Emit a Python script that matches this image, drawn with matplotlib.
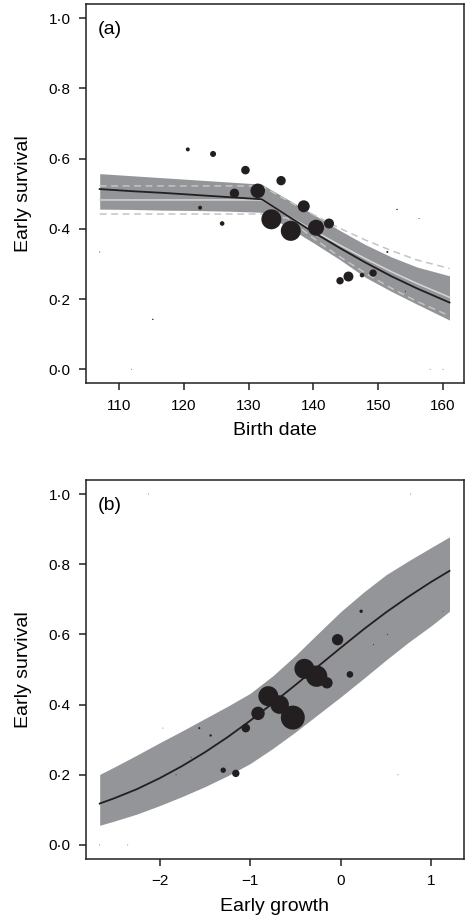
import matplotlib
matplotlib.use("Agg")
import matplotlib.pyplot as plt
import numpy as np

plt.rcParams['font.family'] = ['Liberation Sans', 'DejaVu Sans']

# ---------------- Panel (a) data ----------------
bd_x = [107, 112, 117, 122, 127, 132, 136, 140, 144, 148, 152, 156, 161]
bd_fit = [0.513, 0.507, 0.502, 0.496, 0.490, 0.484, 0.437, 0.390, 0.346, 0.304, 0.265, 0.230, 0.190]
bd_upper = [0.557, 0.551, 0.545, 0.539, 0.533, 0.527, 0.484, 0.441, 0.396, 0.355, 0.320, 0.291, 0.266]
bd_lower = [0.456, 0.455, 0.453, 0.452, 0.450, 0.447, 0.405, 0.360, 0.313, 0.262, 0.222, 0.185, 0.140]
bd_alt_fit = [0.482, 0.482, 0.482, 0.482, 0.482, 0.482, 0.438, 0.395, 0.354, 0.315, 0.278, 0.244, 0.205]
bd_alt_upper = [0.522, 0.522, 0.522, 0.522, 0.522, 0.522, 0.480, 0.440, 0.402, 0.368, 0.338, 0.311, 0.287]
bd_alt_lower = [0.442, 0.442, 0.442, 0.442, 0.442, 0.442, 0.430, 0.373, 0.321, 0.274, 0.231, 0.193, 0.152]

pts_a_x = [120.6, 124.5, 129.5, 135.0, 127.8, 131.4, 122.5, 125.9, 133.5, 136.5,
           138.5, 140.4, 142.4, 144.1, 145.4, 147.5, 149.2, 151.4, 152.9, 156.3,
           154.2, 115.2, 118.7, 107.0, 111.9, 158.0, 160.0]
pts_a_y = [0.626, 0.613, 0.567, 0.537, 0.501, 0.508, 0.460, 0.415, 0.427, 0.394,
           0.464, 0.403, 0.415, 0.252, 0.264, 0.268, 0.274, 0.334, 0.455, 0.429,
           0.222, 0.142, 0.500, 0.334, 0.0, 0.0, 0.0]
pts_a_n = [4, 9, 18.5, 22, 22, 53, 4, 5.3, 100, 100,
           36, 64, 25, 13.7, 25, 5.3, 13.7, 1, 0.5, 0.25,
           0.25, 0.5, 0.25, 0.25, 0.16, 0.16, 0.16]

# ---------------- Panel (b) data ----------------
eg_x = [-2.66, -2.5, -2.25, -2.0, -1.75, -1.5, -1.25, -1.0, -0.75, -0.5,
        -0.25, 0.0, 0.25, 0.5, 0.75, 1.0, 1.2]
eg_fit = [0.118, 0.133, 0.159, 0.190, 0.225, 0.264, 0.307, 0.354, 0.404, 0.456,
          0.509, 0.562, 0.614, 0.663, 0.708, 0.750, 0.781]
eg_upper = [0.201, 0.222, 0.256, 0.291, 0.325, 0.360, 0.395, 0.432, 0.482, 0.540,
            0.603, 0.665, 0.720, 0.770, 0.810, 0.848, 0.878]
eg_lower = [0.056, 0.068, 0.088, 0.112, 0.138, 0.166, 0.197, 0.232, 0.275, 0.322,
            0.372, 0.422, 0.474, 0.527, 0.578, 0.625, 0.666]

pts_b_x = [-0.035, 0.225, 0.101, -0.401, -0.266, -0.152, -0.799, -0.675, -0.529, -0.913,
           -1.048, -1.297, -1.158, -1.561, -1.436, -1.652, -1.817, -1.963, 0.36, 0.514,
           0.631, 1.128, -2.12, 0.77, -2.66, -2.35]
pts_b_y = [0.585, 0.666, 0.486, 0.502, 0.481, 0.462, 0.424, 0.400, 0.363, 0.375,
           0.333, 0.213, 0.204, 0.333, 0.312, 0.250, 0.200, 0.333, 0.571, 0.600,
           0.200, 0.666, 1.0, 1.0, 0.0, 0.0]
pts_b_n = [32, 2.9, 11, 100, 114, 32, 100, 87, 144, 45,
           18.5, 7.3, 13.7, 1, 1.4, 0.25, 0.25, 0.16, 0.25, 0.25,
           0.16, 0.16, 0.16, 0.16, 0.16, 0.16]

a_xticks = [110, 120, 130, 140, 150, 160]
b_xticks = [-2, -1, 0, 1]
b_xticklabels = ['\u22122', '\u22121', '0', '1']
yticks = [0.0, 0.2, 0.4, 0.6, 0.8, 1.0]
yticklabels = ['0\u00b70', '0\u00b72', '0\u00b74', '0\u00b76', '0\u00b78', '1\u00b70']

# ---------------- styling ----------------
BAND = '#939598'
DOT = '#231f20'
LIGHT = '#d6d6d6'
DASH = '#c4c4c4'
SCALE = 2.07

W, H = 465, 923
fig = plt.figure(figsize=(W / 100, H / 100), dpi=100)
left = 85.7 / W
width = (463.5 - 85.7) / W
ax1 = fig.add_axes([left, (H - 383.3) / H, width, (383.3 - 4) / H])
ax2 = fig.add_axes([left, (H - 859) / H, width, (859 - 480) / H])

def style(ax):
    for s in ax.spines.values():
        s.set_linewidth(1.1)
        s.set_color('#231f20')
    ax.tick_params(axis='both', which='both', length=5, width=1.1, color='#231f20',
                   labelsize=11, pad=6, direction='out', top=False, right=False)
    ax.set_yticks(yticks)
    ax.set_yticklabels(yticklabels)
    ax.set_ylim(-0.04, 1.04)

# Panel (a)
ax1.fill_between(bd_x, bd_lower, bd_upper, color=BAND, lw=0, zorder=1)
ax1.plot(bd_x, bd_alt_upper, color=DASH, lw=1.1, dashes=(4.5, 3), zorder=2)
ax1.plot(bd_x, bd_alt_lower, color=DASH, lw=1.1, dashes=(4.5, 3), zorder=2)
ax1.plot(bd_x, bd_alt_fit, color=LIGHT, lw=1.1, zorder=2)
ax1.plot(bd_x, bd_fit, color=DOT, lw=1.3, zorder=3)
ax1.scatter(pts_a_x, pts_a_y, s=[SCALE * n for n in pts_a_n], color=DOT, lw=0, zorder=4)
ax1.set_xlim(104.84, 163.16)
ax1.set_xticks(a_xticks)
style(ax1)
ax1.text(0.033, 0.955, '(a)', transform=ax1.transAxes, fontsize=14, ha='left', va='top')

# Panel (b)
ax2.fill_between(eg_x, eg_lower, eg_upper, color=BAND, lw=0, zorder=1)
ax2.plot(eg_x, eg_fit, color=DOT, lw=1.3, zorder=3)
ax2.scatter(pts_b_x, pts_b_y, s=[SCALE * n for n in pts_b_n], color=DOT, lw=0, zorder=4)
ax2.set_xlim(-2.8144, 1.3544)
ax2.set_xticks(b_xticks)
ax2.set_xticklabels(b_xticklabels)
style(ax2)
ax2.text(0.033, 0.955, '(b)', transform=ax2.transAxes, fontsize=14, ha='left', va='top')

# axis titles
fig.text(23 / W, 1 - 193.5 / H, 'Early survival', rotation=90, ha='center', va='center', fontsize=14)
fig.text(23 / W, 1 - 669.5 / H, 'Early survival', rotation=90, ha='center', va='center', fontsize=14)
fig.text((85.7 + 463.5) / 2 / W, 1 - 435.3 / H, 'Birth date', ha='center', va='baseline', fontsize=14)
fig.text((85.7 + 463.5) / 2 / W, 1 - 911 / H, 'Early growth', ha='center', va='baseline', fontsize=14)

fig.savefig('out.png', dpi=100)
